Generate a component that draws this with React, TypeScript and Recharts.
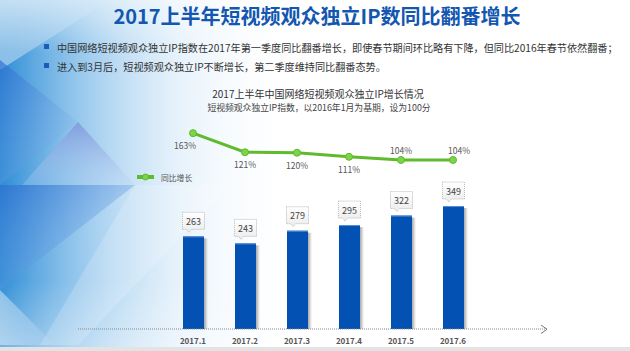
import React from 'react';
import { ComposedChart, Bar, Line, XAxis, YAxis, LabelList } from 'recharts';

const months = ['2017.1', '2017.2', '2017.3', '2017.4', '2017.5', '2017.6'];
const ipIndex = [263, 243, 279, 295, 322, 349];
const yoyGrowth = [163, 121, 120, 111, 104, 104];

const pageTitle = '2017上半年短视频观众独立IP数同比翻番增长';
const bullets = [
  '中国网络短视频观众独立IP指数在2017年第一季度同比翻番增长，即使春节期间环比略有下降，但同比2016年春节依然翻番；',
  '进入到3月后，短视频观众独立IP不断增长，第二季度维持同比翻番态势。',
];
const chartTitle = '2017上半年中国网络短视频观众独立IP增长情况';
const chartSubtitle = '短视频观众独立IP指数，以2016年1月为基期，设为100分';
const legendName = '同比增长';

const data = months.map((m, i) => ({ month: m, ip: ipIndex[i], yoy: yoyGrowth[i] }));

const FONT = '"Noto Sans CJK SC", "Noto Sans", sans-serif';
const BAR_COLOR = '#0251b3';
const LINE_COLOR = '#5fba2c';

const BarShape = (props: any) => {
  const { x, y, width, height } = props;
  if (!height || height <= 0) return null;
  return (
    <g>
      <rect x={x + width - 1} y={y + 2} width={5} height={height - 2} fill="url(#barShadow)" />
      <rect x={x} y={y} width={width} height={height} fill={BAR_COLOR} />
      <rect x={x} y={y} width={width} height={1} fill="#5b8fd6" />
    </g>
  );
};

const BarCallout = (props: any) => {
  const { x, y, width, value } = props;
  const cx = x + width / 2;
  const bw = 22;
  const bh = 17;
  const bottom = y - 7;
  const top = bottom - bh;
  const left = cx - bw / 2;
  const d = `M${left},${top} h${bw} v${bh} h${-(bw - 9)} l-2.5,3 l-2.5,-3 h-4 z`;
  return (
    <g>
      <path d={d} fill="url(#calloutFill)" stroke="#a9a9a9" strokeWidth={0.8} strokeDasharray="1 1" />
      <text x={cx} y={top + bh / 2 + 0.5} textAnchor="middle" dominantBaseline="central" fontSize={9} fill="#444" fontFamily={FONT}>
        {value}
      </text>
    </g>
  );
};

const LineLabel = (props: any) => {
  const { x, y, value, index } = props;
  const last = yoyGrowth.length - 1;
  const above = index >= 4;
  const dx = index === 0 ? -8 : index === last ? 6 : 0;
  const dy = above ? -10 : 12;
  return (
    <text x={x + dx} y={y + dy} textAnchor="middle" dominantBaseline="central" fontSize={8.5} fill="#555" fontFamily={FONT}>
      {value}%
    </text>
  );
};

const Background = () => (
  <svg width={630} height={351} style={{ position: 'absolute', left: 0, top: 0 }}>
    <defs>
      <linearGradient id="bgLeft" x1="0" y1="0" x2="1" y2="0">
        <stop offset="0" stopColor="#1580d0" stopOpacity={0.9} />
        <stop offset="0.25" stopColor="#4a9fe0" stopOpacity={0.6} />
        <stop offset="0.6" stopColor="#a9d2f2" stopOpacity={0.28} />
        <stop offset="1" stopColor="#ffffff" stopOpacity={0} />
      </linearGradient>
      <linearGradient id="bgTop" x1="0" y1="0" x2="0" y2="1">
        <stop offset="0" stopColor="#ffffff" stopOpacity={0.5} />
        <stop offset="0.15" stopColor="#ffffff" stopOpacity={0} />
        <stop offset="0.8" stopColor="#ffffff" stopOpacity={0} />
        <stop offset="1" stopColor="#ffffff" stopOpacity={0.35} />
      </linearGradient>
      <linearGradient id="triA" x1="0" y1="0" x2="0" y2="1">
        <stop offset="0" stopColor="#7d96dc" stopOpacity={0.85} />
        <stop offset="1" stopColor="#b9d3f2" stopOpacity={0.25} />
      </linearGradient>
      <linearGradient id="triB" x1="0" y1="0" x2="1" y2="1">
        <stop offset="0" stopColor="#2d6ed0" stopOpacity={0.7} />
        <stop offset="1" stopColor="#8fc0ee" stopOpacity={0} />
      </linearGradient>
      <linearGradient id="triC" x1="0" y1="0" x2="1" y2="0">
        <stop offset="0" stopColor="#ffffff" stopOpacity={0.45} />
        <stop offset="1" stopColor="#ffffff" stopOpacity={0} />
      </linearGradient>
    </defs>
    <rect x={0} y={0} width={630} height={351} fill="#ffffff" />
    <rect x={0} y={0} width={300} height={351} fill="url(#bgLeft)" />
    <polygon points="0,0 110,0 0,70" fill="url(#triC)" />
    <polygon points="0,60 78,122 0,185" fill="url(#triB)" />
    <polygon points="78,122 22,185 135,185" fill="url(#triA)" />
    <polygon points="0,185 135,185 0,290" fill="url(#triB)" />
    <polygon points="0,290 55,345 0,345" fill="url(#triC)" />
    <polygon points="135,185 230,185 78,345 40,345" fill="#ffffff" fillOpacity={0.18} />
    <rect x={0} y={0} width={630} height={351} fill="url(#bgTop)" />
    <rect x={0} y={347} width={630} height={4} fill="#e3e3e3" />
  </svg>
);

const Overlay = () => (
  <svg width={630} height={351} style={{ position: 'absolute', left: 0, top: 0, pointerEvents: 'none' }}>
    <text x={317} y={24} textAnchor="middle" fontSize={20} fontWeight="bold" fill="#1357b0" fontFamily={FONT}>
      {pageTitle}
    </text>
    {bullets.map((b, i) => (
      <g key={i}>
        <rect x={44} y={44 + i * 19} width={5} height={5} fill="#1a5cb8" />
        <text x={57} y={47 + i * 19} dominantBaseline="central" fontSize={10.15} fill="#333" fontFamily={FONT}>
          {b}
        </text>
      </g>
    ))}
    <text x={318} y={93} textAnchor="middle" dominantBaseline="central" fontSize={10} fill="#333" fontFamily={FONT}>
      {chartTitle}
    </text>
    <text x={319} y={107} textAnchor="middle" dominantBaseline="central" fontSize={8.8} fill="#444" fontFamily={FONT}>
      {chartSubtitle}
    </text>
    <g>
      <rect x={137} y={175} width={17} height={4} fill={LINE_COLOR} />
      <circle cx={145.5} cy={177} r={3} fill="#7fd34a" stroke={LINE_COLOR} strokeWidth={1} />
      <text x={161} y={177} dominantBaseline="central" fontSize={7.8} fill="#555" fontFamily={FONT}>
        {legendName}
      </text>
    </g>
    <polyline points="541,325 547,329.3 541,333.5" fill="none" stroke="#777" strokeWidth={1} />
  </svg>
);

export default function App() {
  return (
    <div style={{ position: 'absolute', left: 0, top: 0, width: 630, height: 351, overflow: 'hidden', fontFamily: FONT }}>
      <Background />
      <div style={{ position: 'absolute', left: 0, top: 0 }}>
        <ComposedChart width={630} height={351} data={data} margin={{ top: 100, right: 83, left: 78, bottom: 8 }}>
          <defs>
            <linearGradient id="barShadow" x1="0" y1="0" x2="1" y2="0">
              <stop offset="0" stopColor="#3a3a3a" stopOpacity={0.55} />
              <stop offset="1" stopColor="#3a3a3a" stopOpacity={0} />
            </linearGradient>
            <linearGradient id="calloutFill" x1="0" y1="0" x2="0" y2="1">
              <stop offset="0" stopColor="#ffffff" />
              <stop offset="1" stopColor="#ececec" />
            </linearGradient>
          </defs>
          <XAxis
            dataKey="month"
            height={14}
            padding={{ left: 89, right: 68 }}
            tickLine={false}
            tickMargin={3}
            axisLine={{ stroke: '#888', strokeDasharray: '1 1', strokeWidth: 1 }}
            tick={{ fontSize: 8, fill: '#555', fontWeight: 'bold', fontFamily: FONT }}
            interval={0}
          />
          <YAxis yAxisId="bar" hide domain={[0, 650]} />
          <YAxis yAxisId="line" hide domain={[-268, 236]} />
          <Bar yAxisId="bar" dataKey="ip" barSize={21} shape={<BarShape />} isAnimationActive={false}>
            <LabelList dataKey="ip" content={<BarCallout />} />
          </Bar>
          <Line
            yAxisId="line"
            dataKey="yoy"
            type="linear"
            stroke={LINE_COLOR}
            strokeWidth={3}
            dot={{ r: 3.5, fill: '#7fd34a', stroke: LINE_COLOR, strokeWidth: 1 }}
            isAnimationActive={false}
          >
            <LabelList dataKey="yoy" content={<LineLabel />} />
          </Line>
        </ComposedChart>
      </div>
      <Overlay />
    </div>
  );
}
